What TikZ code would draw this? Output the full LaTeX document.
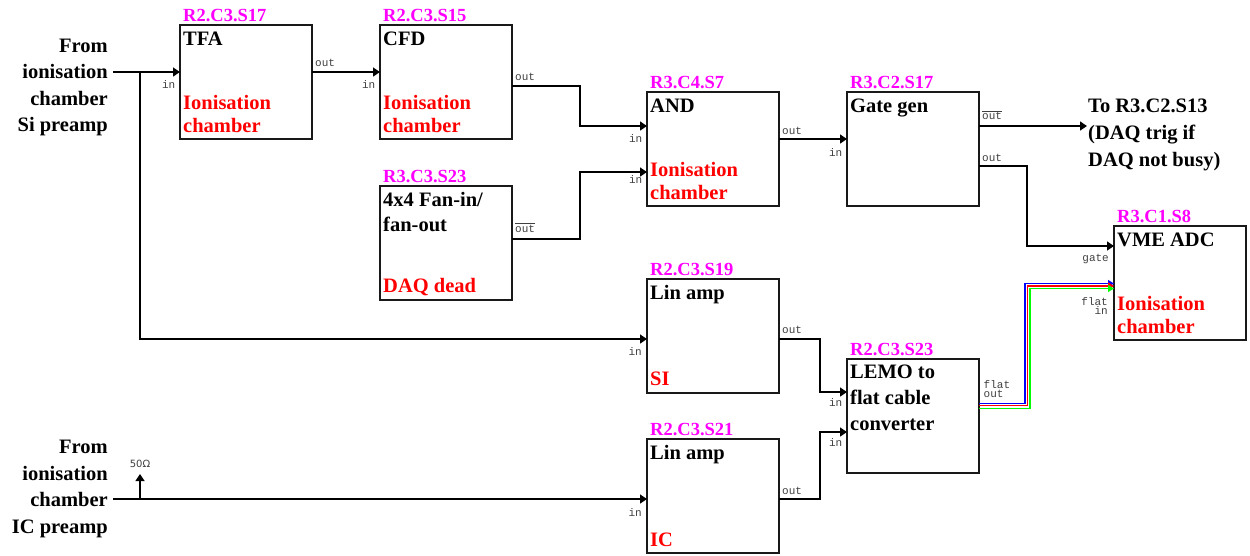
\documentclass[tikz,border=0pt]{standalone}
\usepackage{fontspec}
\setmainfont{Liberation Serif}[BoldFont={Liberation Serif Bold}]
\newfontfamily\monof{Liberation Mono}
\newfontfamily\dejav{DejaVu Sans}
\usetikzlibrary{arrows.meta,calc}
\definecolor{mag}{RGB}{255,0,255}
\definecolor{rd}{RGB}{255,0,0}
\definecolor{bl}{RGB}{0,0,255}
\definecolor{gr}{RGB}{0,255,0}
\newcommand\ovl[1]{$\overline{\hbox{#1}}$}
\tikzset{
  modbox/.style={draw=black!90, line width=1.4pt, minimum width=132pt, minimum height=114pt, anchor=north west, inner sep=0pt, outer sep=0pt},
  txt/.style={font=\bfseries\fontsize{20.5}{24}\selectfont, anchor=base west, inner sep=0pt},
  tagtxt/.style={font=\bfseries\fontsize{18.5}{22}\selectfont, text=mag, anchor=base west, inner sep=0pt},
  redtxt/.style={txt, text=rd},
  lefttxt/.style={txt, anchor=base east},
  portw/.style={font=\monof\fontsize{11}{11}\selectfont, text=black!75, anchor=base west, inner sep=0pt},
  porte/.style={portw, anchor=base east},
  wire/.style={line width=1.3pt, black},
  arr/.style={wire, -{Triangle[length=7pt,width=9pt]}},
  flat/.style={line width=1.2pt, -{Triangle[length=6pt,width=7pt]}},
}
\newcommand\modul[4]{%
  \node[modbox] (#1) at (#2,#3) {};
  \node[tagtxt] (#1-tag) at ({#2+3},{#3-4}) {#4};
}
\begin{document}
\begin{tikzpicture}[x=1pt,y=-1pt]
\useasboundingbox (0,0) rectangle (1250,555);

% modules
\modul{tfa}{180}{25}{R2.C3.S17}
\node[txt] (tfa-t) at (183,45) {TFA};
\node[redtxt] (tfa-r1) at (183,109) {Ionisation};
\node[redtxt] (tfa-r2) at (183,132) {chamber};

\modul{cfd}{380}{25}{R2.C3.S15}
\node[txt] (cfd-t) at (383,45) {CFD};
\node[redtxt] (cfd-r1) at (383,109) {Ionisation};
\node[redtxt] (cfd-r2) at (383,132) {chamber};

\modul{and}{647}{92}{R3.C4.S7}
\node[txt] (and-t) at (650,112) {AND};
\node[redtxt] (and-r1) at (650,176) {Ionisation};
\node[redtxt] (and-r2) at (650,199) {chamber};

\modul{fan}{380}{186}{R3.C3.S23}
\node[txt] (fan-t1) at (383,206) {4x4 Fan-in/};
\node[txt] (fan-t2) at (383,231) {fan-out};
\node[redtxt] (fan-r) at (383,292) {DAQ dead};

\modul{gate}{847}{92}{R3.C2.S17}
\node[txt] (gate-t) at (850,112) {Gate gen};

\modul{vme}{1114}{226}{R3.C1.S8}
\node[txt] (vme-t) at (1117,246) {VME ADC};
\node[redtxt] (vme-r1) at (1117,310) {Ionisation};
\node[redtxt] (vme-r2) at (1117,333) {chamber};

\modul{linsi}{647}{279}{R2.C3.S19}
\node[txt] (linsi-t) at (650,299) {Lin amp};
\node[redtxt] (linsi-r) at (650,385) {SI};

\modul{lemo}{847}{359}{R2.C3.S23}
\node[txt] (lemo-t1) at (850,378.5) {LEMO to};
\node[txt] (lemo-t2) at (850,404.5) {flat cable};
\node[txt] (lemo-t3) at (850,430.5) {converter};

\modul{linic}{647}{439}{R2.C3.S21}
\node[txt] (linic-t) at (650,459) {Lin amp};
\node[redtxt] (linic-r) at (650,546) {IC};

% source / destination texts
\node[lefttxt] (si1) at (108,52) {From};
\node[lefttxt] (si2) at (108,78.5) {ionisation};
\node[lefttxt] (si3) at (108,105) {chamber};
\node[lefttxt] (si4) at (108,131.5) {Si preamp};
\node[lefttxt] (ic1) at (108,453) {From};
\node[lefttxt] (ic2) at (108,480) {ionisation};
\node[lefttxt] (ic3) at (108,506.5) {chamber};
\node[lefttxt] (ic4) at (108,533) {IC preamp};
\node[txt] (to1) at (1088,112.3) {To R3.C2.S13};
\node[txt] (to2) at (1088,139.3) {(DAQ trig if};
\node[txt] (to3) at (1088,166) {DAQ not busy)};

\coordinate (si-src) at (113,72);
\coordinate (si-br) at (140,72);
\coordinate (ic-src) at (113,499);
\coordinate (ic-br) at (140,499);
\coordinate (term) at (140,474);
\coordinate (trig) at (1087,126);
\node[font=\dejav\fontsize{10}{10}\selectfont, anchor=base, inner sep=0pt, text=black!75] (ohm) at (140,467) {50Ω};

% connectors
\draw[arr] (si-src) -- (tfa.west |- si-src);
\draw[arr] (si-br) |- ($(linsi.north west)+(0,60)$);
\draw[arr] ($(tfa.north east)+(0,47)$) -- ($(cfd.north west)+(0,47)$);
\draw[arr] ($(cfd.north east)+(0,61)$) -| ($(and.north west)+(-67,34)$) -- ($(and.north west)+(0,34)$);
\draw[arr] ($(fan.north east)+(0,53)$) -| ($(and.north west)+(-67,80)$) -- ($(and.north west)+(0,80)$);
\draw[arr] ($(and.north east)+(0,47)$) -- ($(gate.north west)+(0,47)$);
\draw[arr] ($(gate.north east)+(0,34)$) -- (trig);
\draw[arr] ($(gate.north east)+(0,74)$) -| ($(vme.north west)+(-87,20)$) -- ($(vme.north west)+(0,20)$);
\draw[arr] ($(linsi.north east)+(0,60)$) -| ($(lemo.north west)+(-27,33)$) -- ($(lemo.north west)+(0,33)$);
\draw[arr] ($(linic.north east)+(0,60)$) -| ($(lemo.north west)+(-27,73)$) -- ($(lemo.north west)+(0,73)$);
\draw[arr] (ic-src) -- ($(linic.north west)+(0,60)$);
\draw[arr] (ic-br) -- (term);

% flat cable
\draw[flat, bl] ($(lemo.north east)+(0,44.3)$) -| ($(vme.north west)+(-89,57.5)$) -- ($(vme.north west)+(0,57.5)$);
\draw[flat, rd] ($(lemo.north east)+(0,46.8)$) -| ($(vme.north west)+(-86.5,60)$) -- ($(vme.north west)+(0,60)$);
\draw[flat, gr] ($(lemo.north east)+(0,49.3)$) -| ($(vme.north west)+(-84,62.5)$) -- ($(vme.north west)+(0,62.5)$);

% port labels
\node[porte] (p1) at (175.5,88) {in};
\node[portw] (p2) at (315,66.5) {out};
\node[porte] (p3) at (375.5,88) {in};
\node[portw] (p4) at (515,80) {out};
\node[portw] (p5) at (515,232) {\ovl{out}};
\node[porte] (p6) at (642.5,142) {in};
\node[porte] (p7) at (642.5,183) {in};
\node[portw] (p8) at (782,134) {out};
\node[porte] (p9) at (842.5,156) {in};
\node[portw] (p10) at (982,119.5) {\ovl{out}};
\node[portw] (p11) at (982,161.5) {out};
\node[porte] (p12) at (1109,261) {gate};
\node[porte] (p13) at (1108,305) {flat};
\node[porte] (p14) at (1108,314.5) {in};
\node[portw] (p15) at (983.5,388) {flat};
\node[portw] (p16) at (983.5,397.5) {out};
\node[portw] (p17) at (782,333) {out};
\node[porte] (p18) at (642,355) {in};
\node[portw] (p19) at (782,494) {out};
\node[porte] (p20) at (642,516.5) {in};
\node[porte] (p21) at (842.5,406.5) {in};
\node[porte] (p22) at (842.5,446.5) {in};
\end{tikzpicture}
\end{document}
